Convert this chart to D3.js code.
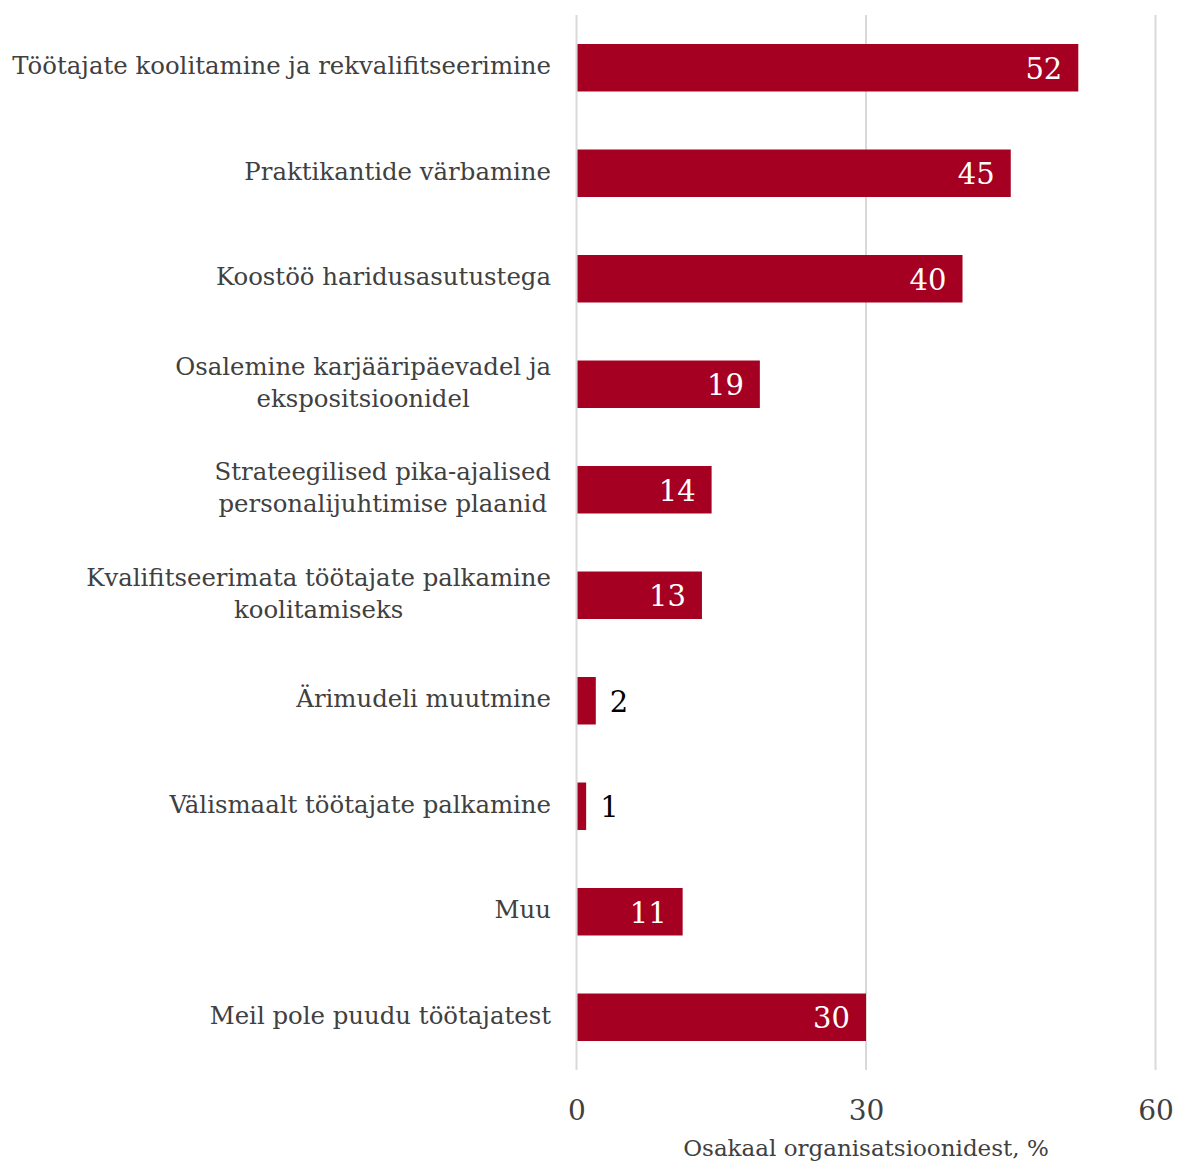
<!DOCTYPE html>
<html><head><meta charset="utf-8">
<script src="https://cdn.jsdelivr.net/npm/d3@7"></script>
<style>body{margin:0;background:#fff;} svg{display:block;}</style>
</head><body>
<svg id="chart" width="1177" height="1164"></svg>
<script>
const categories = [
  ["Töötajate koolitamine ja rekvalifitseerimine"],
  ["Praktikantide värbamine"],
  ["Koostöö haridusasutustega"],
  ["Osalemine karjääripäevadel ja", "ekspositsioonidel"],
  ["Strateegilised pika-ajalised", "personalijuhtimise plaanid"],
  ["Kvalifitseerimata töötajate palkamine", "koolitamiseks"],
  ["Ärimudeli muutmine"],
  ["Välismaalt töötajate palkamine"],
  ["Muu"],
  ["Meil pole puudu töötajatest"]
];
const values = [52, 45, 40, 19, 14, 13, 2, 1, 11, 30];
const ticks = [0, 30, 60];
const axisTitle = "Osakaal organisatsioonidest, %";

(function () {
const FONT = "'DejaVu Serif', 'Liberation Serif', serif";
const svg = d3.select("#chart");
const pLeft = 576.5, pRight = 1155.5, pTop = 15, pBottom = 1070;
const x = d3.scaleLinear().domain([0, 60]).range([pLeft, pRight]);
const y = d3.scaleBand().domain(d3.range(categories.length)).range([pTop, pBottom]).paddingInner(0.55).paddingOuter(0.275);

svg.append("g").selectAll("line").data(ticks).join("line")
  .attr("x1", d => x(d)).attr("x2", d => x(d))
  .attr("y1", pTop).attr("y2", pBottom)
  .attr("stroke", "#d9d9d9").attr("stroke-width", 2);

svg.append("g").selectAll("rect").data(values).join("rect")
  .attr("x", x(0) + 1).attr("y", (d, i) => y(i))
  .attr("width", d => x(d) - x(0) - 1).attr("height", y.bandwidth())
  .attr("fill", "#a50021");

svg.append("g").selectAll("text").data(values).join("text")
  .attr("x", d => d >= 5 ? x(d) - 16 : x(d) + 14)
  .attr("y", (d, i) => y(i) + y.bandwidth() / 2 + 3)
  .attr("dominant-baseline", "middle")
  .attr("text-anchor", d => d >= 5 ? "end" : "start")
  .attr("fill", d => d >= 5 ? "#ffffff" : "#000000")
  .attr("font-family", FONT).attr("font-size", 29)
  .text(d => d);

const catG = svg.append("g");
categories.forEach((lines, i) => {
  const cy = y(i) + y.bandwidth() / 2;
  const lh = 32;
  const g = catG.append("g");
  const texts = lines.map((ln, k) => g.append("text")
    .attr("y", cy + (k - (lines.length - 1) / 2) * lh)
    .attr("dominant-baseline", "middle")
    .attr("text-anchor", "middle")
    .attr("fill", "#404040")
    .attr("font-family", FONT).attr("font-size", 24.4)
    .text(ln));
  const maxW = d3.max(texts, t => t.node().getComputedTextLength());
  texts.forEach(t => t.attr("x", 551 - maxW / 2));
});

const axis = d3.axisBottom(x).tickValues(ticks).tickSize(0).tickPadding(0);
const ag = svg.append("g").attr("transform", `translate(0,${pBottom})`).call(axis);
ag.select(".domain").remove();
ag.selectAll("text").attr("y", 40).attr("dy", "0.35em")
  .attr("font-family", FONT).attr("font-size", 28).attr("fill", "#404040");

svg.append("text").attr("x", x(30)).attr("y", 1150)
  .attr("text-anchor", "middle").attr("dominant-baseline", "middle")
  .attr("font-family", FONT).attr("font-size", 23).attr("fill", "#404040")
  .text(axisTitle);
})();
</script>
</body></html>
